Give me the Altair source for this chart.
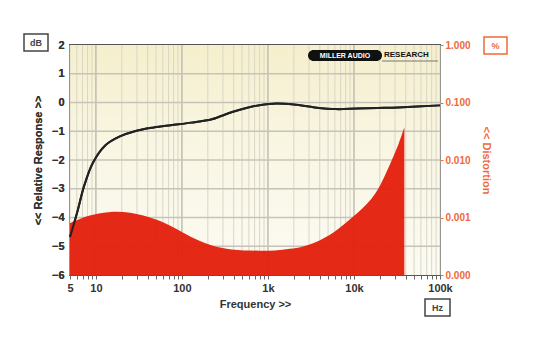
import altair as alt
import pandas as pd

# ---- data ----
resp_freq = [5, 6.1, 7.3, 9.3, 13, 19, 29, 47, 74, 128, 223, 384, 660, 1150, 2000, 3500, 6200, 10800, 18800, 32700, 100000]
resp_db = [-4.68, -3.79, -2.90, -2.08, -1.48, -1.18, -0.99, -0.87, -0.79, -0.70, -0.58, -0.33, -0.14, -0.04, -0.07, -0.17, -0.23, -0.21, -0.19, -0.17, -0.10]

dist_freq = [5, 6, 8.5, 14, 25, 50, 80, 128, 220, 380, 780, 1200, 1800, 2500, 3400, 4500, 6000, 8000, 10600, 14000, 17600, 21000, 27000, 33000, 38500]
dist_pct = [0.00080, 0.00090, 0.00108, 0.00124, 0.00121, 0.00092, 0.00067, 0.00046, 0.00033, 0.000278, 0.000265, 0.000268, 0.000285, 0.00031, 0.00036, 0.00044, 0.00057, 0.00080, 0.00115, 0.0017, 0.0026, 0.0041, 0.0093, 0.019, 0.037]

x_ticks = [5, 10, 100, 1000, 10000, 100000]
x_tick_labels = ["5", "10", "100", "1k", "10k", "100k"]
y_left_ticks = [2, 1, 0, -1, -2, -3, -4, -5, -6]
y_right_ticks = [1.0, 0.1, 0.01, 0.001, 0.0001]

W, H = 370, 230
FONT = "Liberation Sans"
ORANGE = "#ee6a3a"

# gridline positions (axis furniture)
grid_x = [m * 10 ** k for k in range(0, 5) for m in range(1, 10) if 5 <= m * 10 ** k < 100000] + [100000]
major_x = [10, 100, 1000, 10000]

resp_df = pd.DataFrame({"f": resp_freq, "db": resp_db})
dist_df = pd.DataFrame({"f": dist_freq, "pct": dist_pct})
gx_minor = pd.DataFrame({"f": [v for v in grid_x if v not in major_x]})
gx_major = pd.DataFrame({"f": major_x})
gy = pd.DataFrame({"db": y_left_ticks[1:-1]})

label_expr = "''"
for v, t in reversed(list(zip(x_ticks, x_tick_labels))):
    label_expr = f"datum.value == {v} ? '{t}' : ({label_expr})"

x_scale = alt.Scale(type="log", domain=[5, 100000], nice=False)
x_axis = alt.Axis(
    values=grid_x, labelExpr=label_expr, title="Frequency >>", grid=False, domain=False,
    tickSize=4, tickColor="#666", labelFont=FONT, labelFontSize=11, labelFontWeight="bold",
    labelColor="#333", labelOverlap=False, labelPadding=3, labelFlush=False,
    titleFont=FONT, titleFontSize=11, titleFontWeight="bold", titleColor="#333", titlePadding=5,
)


def X():
    return alt.X("f:Q", scale=x_scale, axis=x_axis)


db_scale = alt.Scale(domain=[-6, 2], nice=False, zero=False)

bg = alt.Chart(pd.DataFrame({"a": [0]})).mark_rect(
    color=alt.Gradient(gradient="linear", x1=0, x2=0, y1=0, y2=1,
                       stops=[alt.GradientStop(color="#f5efcc", offset=0),
                              alt.GradientStop(color="#f9f6e4", offset=0.45),
                              alt.GradientStop(color="#fcfbf3", offset=1)])
).encode(x=alt.value(0), x2=alt.value(W), y=alt.value(0), y2=alt.value(H))

vminor = alt.Chart(gx_minor).mark_rule(color="#d9d6c6", strokeWidth=1).encode(
    x=X(), y=alt.value(0), y2=alt.value(H))
vmajor = alt.Chart(gx_major).mark_rule(color="#bcb9ad", strokeWidth=1.4).encode(
    x=X(), y=alt.value(0), y2=alt.value(H))
hgrid = alt.Chart(gy).mark_rule(color="#c6c4b8", strokeWidth=1.4).encode(
    y=alt.Y("db:Q", scale=db_scale, axis=None), x=alt.value(0), x2=alt.value(W))

area = alt.Chart(dist_df).mark_area(color="#e4200e", opacity=0.96, interpolate="catmull-rom").encode(
    x=X(),
    y=alt.Y("pct:Q", scale=alt.Scale(type="log", domain=[0.0001, 1], nice=False),
            axis=alt.Axis(orient="right", values=y_right_ticks, format=".3f", title="<< Distortion",
                          grid=False, domain=False, ticks=True, tickSize=3, tickColor=ORANGE,
                          labelColor=ORANGE, labelFont=FONT, labelFontSize=10, labelFontWeight="bold",
                          labelPadding=2, labelFlush=False,
                          titleColor=ORANGE, titleFont=FONT, titleFontSize=11, titleFontWeight="bold",
                          titleAngle=90, titlePadding=10)),
    y2=alt.datum(0.0001),
)

line = alt.Chart(resp_df).mark_line(color="#222222", strokeWidth=2, interpolate="catmull-rom").encode(
    x=X(),
    y=alt.Y("db:Q", scale=db_scale,
            axis=alt.Axis(orient="left", values=y_left_ticks, format="d", title="<< Relative Response >>",
                          grid=False, domain=False, ticks=False, labelPadding=6,
                          labelColor="#333", labelFont=FONT, labelFontSize=11, labelFontWeight="bold",
                          labelFlush=False,
                          titleColor="#333", titleFont=FONT, titleFontSize=11, titleFontWeight="bold",
                          titlePadding=8)),
)

one = pd.DataFrame({"a": [0]})

logo_bg = alt.Chart(one).mark_rect(color="#111", cornerRadius=6).encode(
    x=alt.value(238), x2=alt.value(312), y=alt.value(5), y2=alt.value(16))
logo_t1 = alt.Chart(one).mark_text(text="MILLER AUDIO", color="white", font=FONT, fontSize=7,
                                   fontWeight="bold", align="center", baseline="middle").encode(
    x=alt.value(275), y=alt.value(10.5))
logo_t2 = alt.Chart(one).mark_text(text="RESEARCH", color="#111", font=FONT, fontSize=8,
                                   fontWeight="bold", align="left", baseline="middle").encode(
    x=alt.value(314), y=alt.value(10))
logo_ln = alt.Chart(one).mark_rule(color="#777", strokeWidth=1).encode(
    x=alt.value(312), x2=alt.value(368), y=alt.value(16))

def box(x0, y0, w, h, txt, col):
    r = alt.Chart(one).mark_rect(fill="white", stroke=col, strokeWidth=1.5).encode(
        x=alt.value(x0), x2=alt.value(x0 + w), y=alt.value(y0), y2=alt.value(y0 + h))
    t = alt.Chart(one).mark_text(text=txt, color=col, font=FONT, fontSize=9, fontWeight="bold",
                                 align="center", baseline="middle").encode(
        x=alt.value(x0 + w / 2), y=alt.value(y0 + h / 2 + 0.5))
    return r + t

db_box = box(-46, -11, 24, 17, "dB", "#444")
pct_box = box(W + 44, -8, 23, 17, "%", ORANGE)
hz_box = box(W - 15, H + 24, 25, 17, "Hz", "#444")

chart = alt.layer(
    bg, vminor, vmajor, hgrid, line, area, line,
    logo_bg, logo_t1, logo_t2, logo_ln, db_box, pct_box, hz_box,
).resolve_scale(y="independent").properties(
    width=W, height=H,
    autosize=alt.AutoSizeParams(type="none"),
    padding={"left": 62, "top": 37, "right": 72, "bottom": 52},
    background="white",
).configure_view(stroke="#555", strokeWidth=2)

chart.save("out.html", embed_options={"renderer": "svg", "actions": False})
